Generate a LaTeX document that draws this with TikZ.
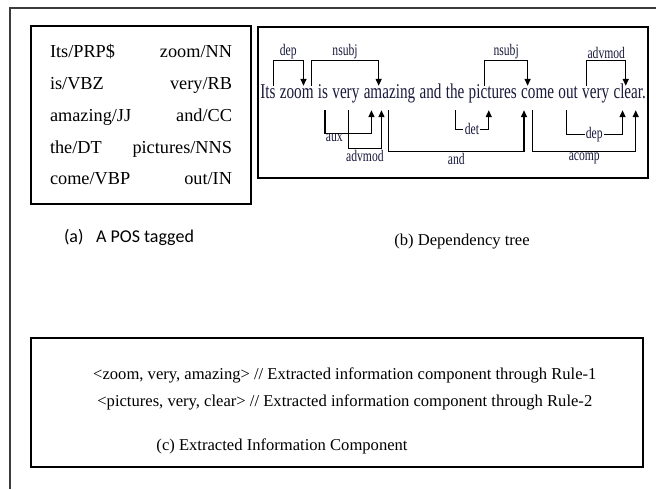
\documentclass[tikz,border=0pt]{standalone}
\usepackage{fontspec}
\setmainfont{Liberation Serif}
\newfontfamily\calibrifont{Carlito}
\newfontfamily\narrowfont[FakeStretch=0.72]{Liberation Serif}
\usetikzlibrary{arrows.meta,positioning}
\definecolor{deptext}{RGB}{25,25,60}
\definecolor{framegray}{RGB}{60,60,60}

\begin{document}
\begin{tikzpicture}[
  panel/.style={draw, line width=1.2pt, rectangle, inner sep=0pt},
  word/.style={font=\narrowfont\fontsize{15}{17}\selectfont, text=deptext, inner sep=0pt, text height=0.3cm, text depth=0.3cm},
  rel/.style={font=\narrowfont\fontsize{11.5}{12}\selectfont, text=deptext, inner sep=1pt},
  arr/.style={-{Triangle[length=1.7mm,width=1.5mm]}, line width=0.8pt},
  capt/.style={font=\fontsize{11.8}{14}\selectfont}
]
\useasboundingbox (0,0) rectangle (16.4,-12.225);
\draw[line width=1.2pt, framegray] (0.25,-12.225) |- (16.4,-0.2);

% (a) tagged words
\node[panel, minimum width=5.5cm, minimum height=4.45cm] (pos) at (3.525,-2.875)
{\fontsize{13}{22.6}\selectfont
\begin{tabular*}{4.55cm}{@{}l@{\extracolsep{\fill}}r@{}}
Its/PRP\$ & zoom/NN\\
is/VBZ & very/RB\\
amazing/JJ & and/CC\\
the/DT & pictures/NNS\\
come/VBP & out/IN
\end{tabular*}};
\node[font=\calibrifont\fontsize{12.8}{15}\selectfont] (capa) at (3.225,-5.925) {(a)\hspace{0.7em}A POS tagged};

% (b) dependency tree
\node[panel, minimum width=9.75cm, minimum height=3.775cm] (deps) at (11.325,-2.5625) {};
\node[word, anchor=west] (its) at (6.5,-2.45) {Its};
\node[word, right=0.095cm of its] (zoom) {zoom};
\node[word, right=0.095cm of zoom] (is) {is};
\node[word, right=0.095cm of is] (very) {very};
\node[word, right=0.095cm of very] (amazing) {amazing};
\node[word, right=0.095cm of amazing] (and) {and};
\node[word, right=0.095cm of and] (the) {the};
\node[word, right=0.095cm of the] (pictures) {pictures};
\node[word, right=0.095cm of pictures] (come) {come};
\node[word, right=0.095cm of come] (out) {out};
\node[word, right=0.095cm of out] (very2) {very};
\node[word, right=0.095cm of very2] (clear) {clear.};

\draw[arr] ([xshift=0.13cm]its.north) -- ++(0,0.625) -| node[rel, pos=0.25, above] {dep} ([xshift=0.17cm]zoom.north);
\draw[arr] ([xshift=0.37cm]zoom.north) -- ++(0,0.625) -| node[rel, pos=0.25, above] {nsubj} ([xshift=-0.27cm]amazing.north);
\draw[arr] ([xshift=-0.2cm]pictures.north) -- ++(0,0.625) -| node[rel, pos=0.25, above] {nsubj} ([xshift=-0.25cm]come.north);
\draw[arr] ([xshift=-0.22cm]very2.north) -- ++(0,0.625) -| node[rel, pos=0.25, above] {advmod} ([xshift=-0.1cm]clear.north);

\draw[arr] ([xshift=0.05cm]is.south) -- ++(0,-0.575) -| node[rel, pos=0.1, below=-1pt] {aux} ([xshift=-0.45cm]amazing.south);
\draw[arr] ([xshift=0.06cm]very.south) -- ++(0,-0.95) -| node[rel, pos=0.25, below] {advmod} ([xshift=-0.2cm]amazing.south);
\draw[arr] ([xshift=-0.02cm]amazing.south) -- ++(0,-1.025) -| node[rel, pos=0.25, below] {and} ([xshift=-0.34cm]come.south);
\draw[arr] (the.south) -- ++(0,-0.475) -| node[rel, pos=0.25, fill=white] {det} ([xshift=-0.1cm]pictures.south);
\draw[arr] ([xshift=-0.12cm]come.south) -- ++(0,-1.025) -| node[rel, pos=0.25, below] {acomp} ([xshift=0.15cm]clear.south);
\draw[arr] ([xshift=-0.05cm]out.south) -- ++(0,-0.6) -| node[rel, pos=0.25, fill=white] {dep} ([xshift=-0.18cm]clear.south);
\node[capt] (capb) at (11.55,-6.05) {(b) Dependency tree};

% (c) extracted components
\node[panel, minimum width=15.3cm, minimum height=3.225cm] (info) at (8.425,-10.0625) {};
\node[capt] (rule1) at (8.62,-9.375) {<zoom, very, amazing> // Extracted information component through Rule-1};
\node[capt] (rule2) at (8.62,-10.05) {<pictures, very, clear> // Extracted information component through Rule-2};
\node[capt] (capc) at (7.05,-11.15) {(c) Extracted Information Component};
\end{tikzpicture}
\end{document}
